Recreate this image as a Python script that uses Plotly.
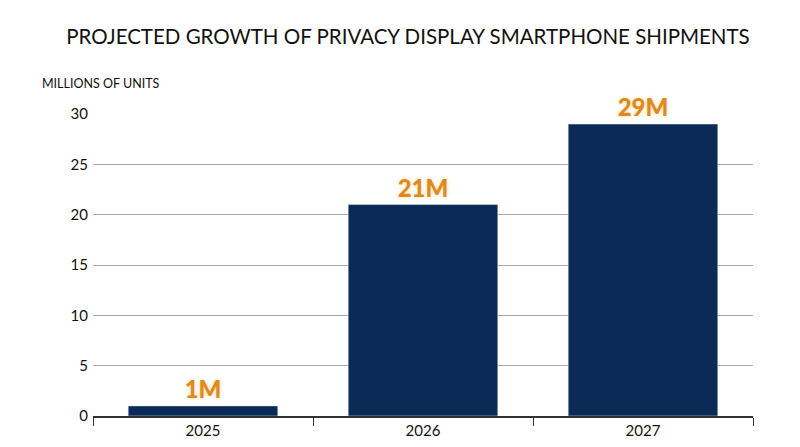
import plotly.graph_objects as go

years = ["2025", "2026", "2027"]
shipments = [1, 21, 29]
labels = ["1M", "21M", "29M"]

fig = go.Figure(go.Bar(
    x=years, y=shipments, marker_color="#0b2a55", width=0.68,
    text=labels, textposition="outside", cliponaxis=False,
    textfont=dict(family="Lato", size=24, color="#e08a1e", weight=900,
                  shadow="0 0 4px #f6d9a6"),
))
fig.update_layout(
    width=800, height=447, plot_bgcolor="white", paper_bgcolor="white",
    margin=dict(l=85, r=55, t=106, b=39, autoexpand=False),
    title=dict(text="PROJECTED GROWTH OF PRIVACY DISPLAY SMARTPHONE SHIPMENTS",
               x=0.5, xanchor="center", y=0.935, yanchor="middle",
               font=dict(family="Lato", size=20.5, color="#111")),
    showlegend=False,
    annotations=[dict(text="MILLIONS OF UNITS", xref="paper", yref="paper",
                      x=-0.08, y=1.1, xanchor="left", yanchor="middle",
                      showarrow=False, font=dict(family="Lato", size=12.5, color="#111"))],
)
fig.update_yaxes(range=[0, 30], tickvals=[0, 5, 10, 15, 20, 25, 30], automargin=False,
                 showgrid=True, gridcolor="#aaaaaa", gridwidth=1, zeroline=False,
                 tickfont=dict(family="Lato", size=15, color="#111"), ticklen=0,
                 ticks="", ticklabelstandoff=4)
fig.update_xaxes(showline=True, linecolor="#333", linewidth=1.5, automargin=False,
                 ticks="outside", tickson="boundaries", ticklen=8, tickcolor="#333",
                 tickfont=dict(family="Lato", size=15, color="#111"))
fig.write_html("out.html")
